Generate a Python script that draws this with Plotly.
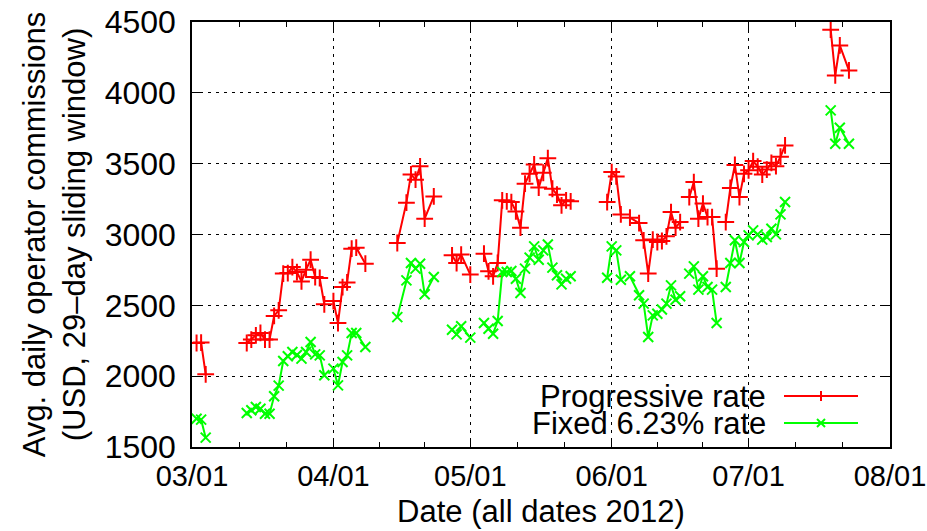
import plotly.graph_objects as go
import pandas as pd

# ---- data; None = break in the line ----
dates = [
    "2012-03-02", "2012-03-03", "2012-03-04", "2012-03-05",
    "2012-03-13", "2012-03-14", "2012-03-15", "2012-03-16", "2012-03-17", "2012-03-18",
    "2012-03-19", "2012-03-20", "2012-03-21", "2012-03-22", "2012-03-23", "2012-03-24",
    "2012-03-25", "2012-03-26", "2012-03-27", "2012-03-28", "2012-03-29", "2012-03-30",
    "2012-03-31",
    "2012-04-01", "2012-04-02", "2012-04-03", "2012-04-04", "2012-04-05", "2012-04-06",
    "2012-04-08", "2012-04-09",
    "2012-04-15", "2012-04-17", "2012-04-18", "2012-04-19", "2012-04-20", "2012-04-21",
    "2012-04-23", "2012-04-24",
    "2012-04-27", "2012-04-28", "2012-04-29", "2012-05-01", "2012-05-02",
    "2012-05-04", "2012-05-05", "2012-05-06", "2012-05-07", "2012-05-08", "2012-05-09",
    "2012-05-10", "2012-05-11", "2012-05-12", "2012-05-13", "2012-05-14", "2012-05-15",
    "2012-05-16", "2012-05-17", "2012-05-18", "2012-05-19", "2012-05-20", "2012-05-21",
    "2012-05-22", "2012-05-23", "2012-05-24",
    "2012-05-31", "2012-06-01", "2012-06-02", "2012-06-03", "2012-06-04",
    "2012-06-05", "2012-06-07", "2012-06-08", "2012-06-09", "2012-06-10", "2012-06-11",
    "2012-06-12", "2012-06-13", "2012-06-14", "2012-06-15", "2012-06-16", "2012-06-17",
    "2012-06-18", "2012-06-19", "2012-06-20", "2012-06-21", "2012-06-22", "2012-06-23",
    "2012-06-24", "2012-06-25",
    "2012-06-26", "2012-06-27", "2012-06-28", "2012-06-29", "2012-06-30", "2012-07-01",
    "2012-07-02", "2012-07-03", "2012-07-04", "2012-07-05", "2012-07-06", "2012-07-07",
    "2012-07-08", "2012-07-09", "2012-07-10",
    "2012-07-19", "2012-07-20", "2012-07-21", "2012-07-23",
]

progressive = [
    2234, 2237, 2013, None,
    2234, 2258, 2288, 2305, 2258, 2258,
    2425, 2465, 2724, 2728, 2770, 2735,
    2669, 2752, 2822, 2700, 2693, 2507,
    None,
    2530, 2375, 2629, 2662, 2900, 2907,
    2794, None,
    2940, 3225, 3424, 3387, 3481, 3112,
    3269, None,
    2853, 2799, 2858, 2717, None,
    2865, 2740, 2705, 2799, 3241, 3234,
    3229, 3163, 3048, 3359, 3429, 3494,
    3331, 3436, 3539, 3323, 3281, 3206,
    3241, 3234, None,
    3229, 3441, 3410, 3142, None,
    3119, 3081, 2959, 2724, 2964, 2947,
    2954, 2987, 3158, 3048, 3088, None,
    3264, 3370, 3112, 3218, 3123, 3123,
    2759, None,
    3088, 3329, 3491, 3264, 3428, 3453,
    3518, 3479, 3423, 3458, 3506, 3482,
    3549, 3629, None,
    4446, 4123, 4335, 4158,
]

fixed = [
    1700, 1693, 1566, None,
    1740, 1759, 1782, 1770, 1735, 1735,
    1858, 1933, 2107, 2140, 2170, 2150,
    2124, 2170, 2241, 2154, 2147, 2006,
    None,
    2053, 1935, 2100, 2147, 2305, 2305,
    2206, None,
    2417, 2676, 2799, 2759, 2794, 2578,
    2700, None,
    2328, 2295, 2352, 2272, None,
    2375, 2335, 2300, 2389, 2735, 2735,
    2742, 2688, 2587, 2759, 2837, 2916,
    2822, 2888, 2930, 2766, 2712, 2648,
    2688, 2705, None,
    2695, 2916, 2888, 2681, None,
    2705, 2571, 2512, 2276, 2429, 2441,
    2470, 2512, 2641, 2540, 2564, None,
    2724, 2775, 2611, 2705, 2629, 2611,
    2375, None,
    2629, 2799, 2959, 2799, 2947, 2994,
    3029, 3001, 2964, 2982, 3041, 3001,
    3142, 3229, None,
    3876, 3641, 3754, 3641,
]

series_names = ["Progressive rate", "Fixed 6.23% rate"]
month_ticks = ["2012-03-01", "2012-04-01", "2012-05-01", "2012-06-01", "2012-07-01", "2012-08-01"]
y_ticks = [1500, 2000, 2500, 3000, 3500, 4000, 4500]

RED = "#ff0000"
GREEN = "#00ff00"
FONT = "Liberation Sans, Arial, Helvetica, sans-serif"
FS = 31

fig = go.Figure()
fig.add_trace(go.Scatter(
    x=dates, y=progressive, mode="lines+markers", name=series_names[0],
    connectgaps=False, showlegend=False,
    line=dict(color=RED, width=2),
    marker=dict(symbol="cross-thin", size=12, color=RED, line=dict(color=RED, width=2)),
))
fig.add_trace(go.Scatter(
    x=dates, y=fixed, mode="lines+markers", name=series_names[1],
    connectgaps=False, showlegend=False,
    line=dict(color=GREEN, width=2),
    marker=dict(symbol="x-thin", size=10, color=GREEN, line=dict(color=GREEN, width=2)),
))

# minor ticks: thirds of each month
mt = pd.to_datetime(month_ticks)
minor_vals = []
for a, b in zip(mt[:-1], mt[1:]):
    minor_vals.append(a + (b - a) / 3)
    minor_vals.append(a + 2 * (b - a) / 3)

W, H = 927, 531
L, R, T, B = 192, 37, 22, 84
pw, ph = W - L - R, H - T - B

def px(xp):
    return (xp - L) / pw

def py(yp):
    return (H - B - yp) / ph

fig.update_layout(
    width=W, height=H,
    margin=dict(l=L, r=R, t=T, b=B, pad=0, autoexpand=False),
    paper_bgcolor="white", plot_bgcolor="white",
    font=dict(family=FONT, size=FS, color="black"),
    showlegend=False,
    hovermode=False,
    xaxis=dict(
        type="date", automargin=False, ticklabeloverflow="allow",
        range=[month_ticks[0], month_ticks[-1]],
        tickmode="array", tickvals=month_ticks,
        ticktext=[pd.Timestamp(d).strftime("%m/%d") for d in month_ticks],
        ticks="inside", ticklen=9, tickwidth=1, tickcolor="black",
        showline=True, linecolor="black", linewidth=1.5, mirror="ticks",
        showgrid=True, gridcolor="black", gridwidth=1, griddash="3px,5px",
        zeroline=False,
        minor=dict(tickmode="array", tickvals=minor_vals, ticks="inside",
                   ticklen=5, tickcolor="black", tickwidth=1, showgrid=False),
        title=dict(text="Date (all dates 2012)", standoff=10,
                   font=dict(family=FONT, size=FS)),
        tickfont=dict(family=FONT, size=29),
        ticklabelstandoff=2,
    ),
    yaxis=dict(
        range=[1500, 4500], automargin=False, ticklabeloverflow="allow",
        tickmode="array", tickvals=y_ticks,
        ticks="inside", ticklen=9, tickwidth=1, tickcolor="black",
        showline=True, linecolor="black", linewidth=1.5, mirror="ticks",
        showgrid=True, gridcolor="black", gridwidth=1, griddash="3px,5px",
        zeroline=False,
        title=dict(text="Avg. daily operator commissions<br>(USD, 29–day sliding window)",
                   standoff=10, font=dict(family=FONT, size=FS)),
        tickfont=dict(family=FONT, size=32),
        ticklabelstandoff=8,
    ),
)

# custom gnuplot-style key: text, then line sample with marker
key_rows = [(396, RED, "plus", series_names[0]), (423, GREEN, "x", series_names[1])]
for yp, col, sym, label in key_rows:
    fig.add_annotation(x=px(768), y=py(yp), xref="paper", yref="paper",
                       text=label, showarrow=False, xanchor="right", yanchor="middle",
                       font=dict(family=FONT, size=FS, color="black"))
    fig.add_shape(type="line", xref="paper", yref="paper",
                  x0=px(784), x1=px(858), y0=py(yp), y1=py(yp),
                  line=dict(color=col, width=2))
    cx = 821
    if sym == "plus":
        fig.add_shape(type="line", xref="paper", yref="paper",
                      x0=px(cx), x1=px(cx), y0=py(yp - 5), y1=py(yp + 5),
                      line=dict(color=col, width=2))
    else:
        fig.add_shape(type="line", xref="paper", yref="paper",
                      x0=px(cx - 4), x1=px(cx + 4), y0=py(yp - 4), y1=py(yp + 4),
                      line=dict(color=col, width=2))
        fig.add_shape(type="line", xref="paper", yref="paper",
                      x0=px(cx - 4), x1=px(cx + 4), y0=py(yp + 4), y1=py(yp - 4),
                      line=dict(color=col, width=2))

# remove the default page margin so the figure fills the window exactly
fig.write_html(
    "out.html",
    config={"displayModeBar": False},
    post_script="document.body.style.margin='0';document.body.style.overflow='hidden';",
)
